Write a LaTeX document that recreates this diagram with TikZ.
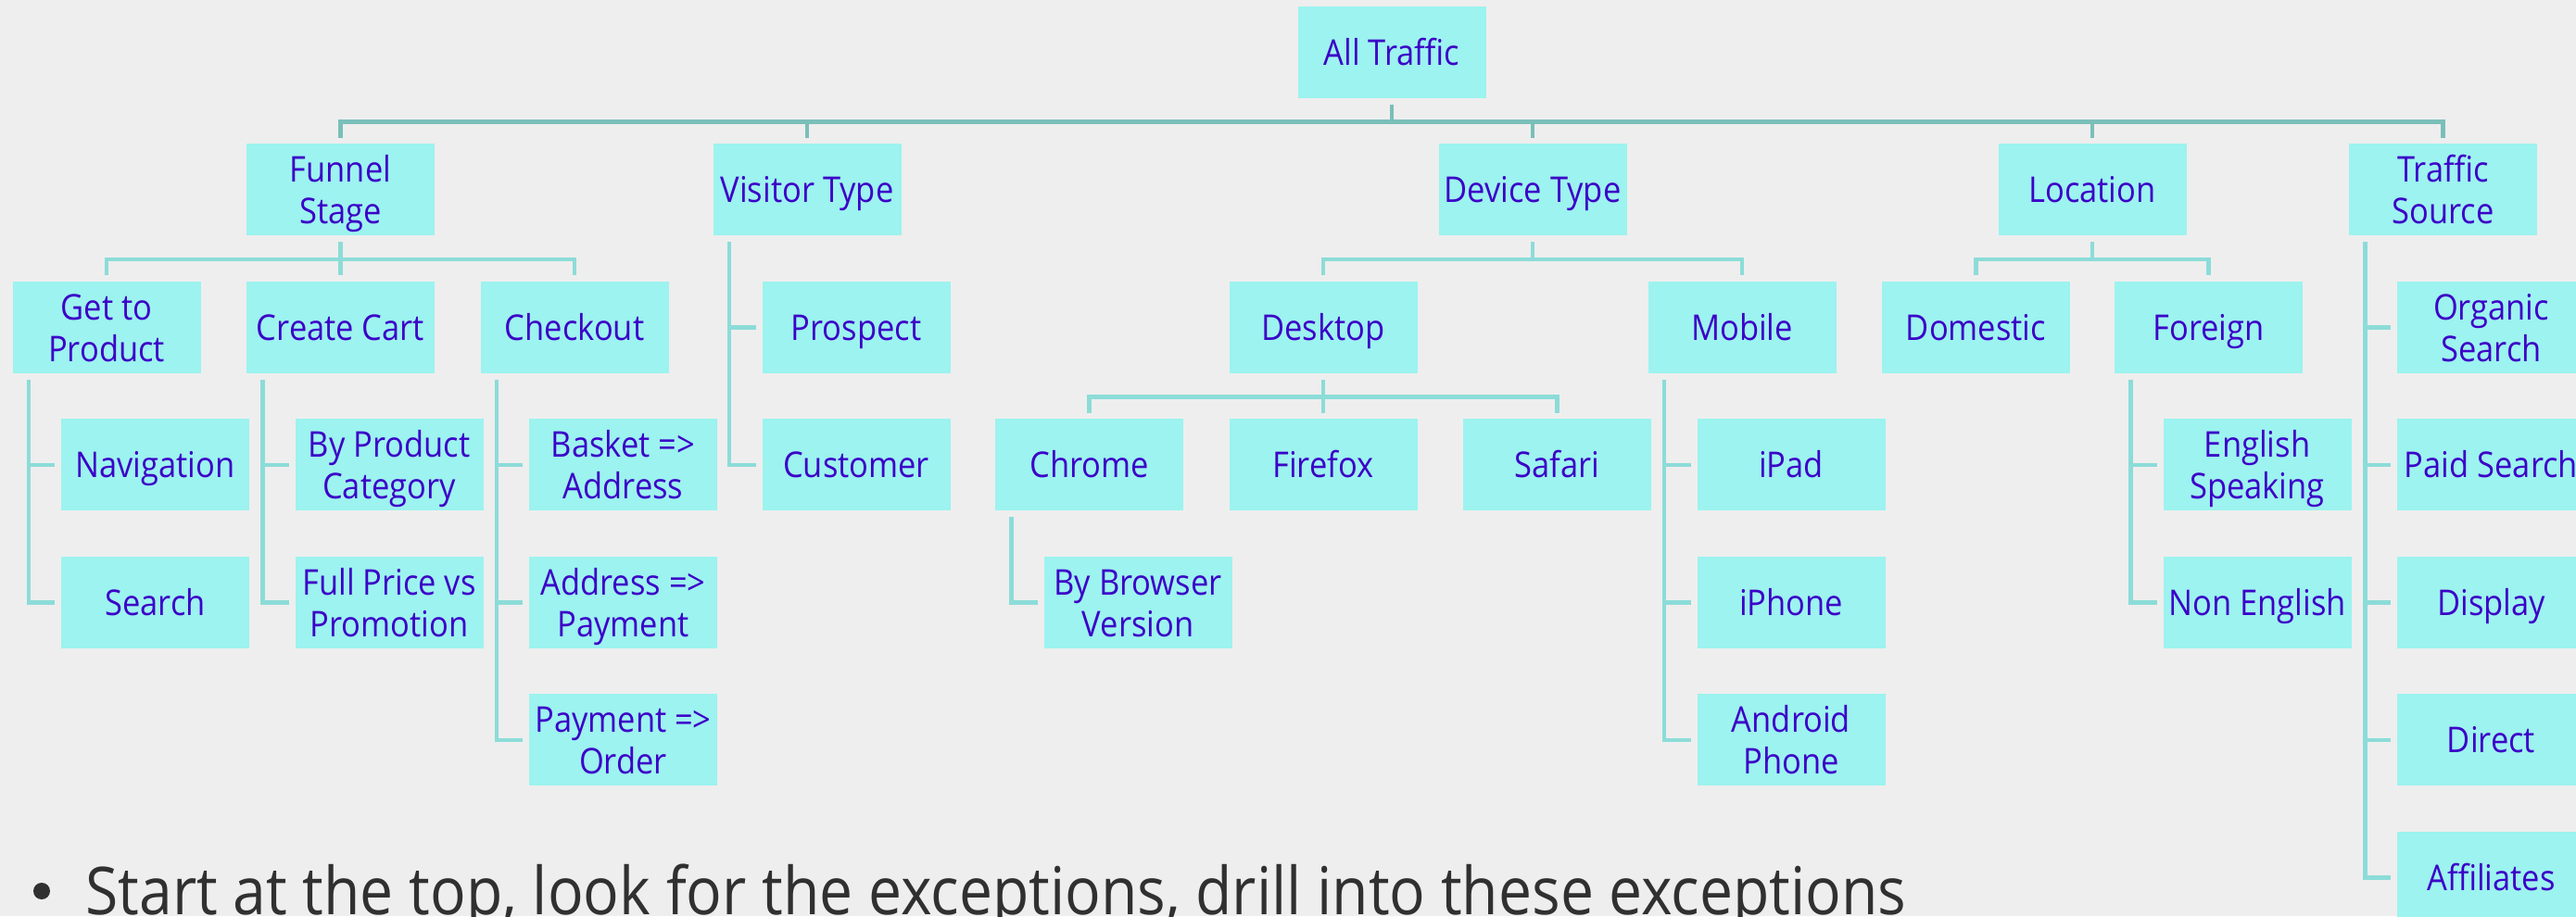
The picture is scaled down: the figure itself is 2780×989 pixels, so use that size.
\documentclass[tikz,border=0pt]{standalone}
\usepackage{fontspec}
\setmainfont{Open Sans}[FakeStretch=0.9]
\usetikzlibrary{positioning}
\definecolor{boxfill}{RGB}{156,243,239}
\definecolor{boxtext}{RGB}{60,0,200}
\definecolor{paper}{RGB}{238,238,238}
\definecolor{topline}{RGB}{122,191,185}
\definecolor{subline}{RGB}{140,220,216}
\definecolor{tiptext}{RGB}{48,48,48}

\begin{document}
\begin{tikzpicture}[x=0.1mm, y=0.1mm, node distance=14.85mm,
	main/.style = {fill=boxfill, text=boxtext, minimum width=20.3mm, minimum height=9.9mm, inner sep=0pt, align=center, font=\fontsize{10.9pt}{12.8pt}\selectfont,
		execute at begin node={\rule{0pt}{10.8pt}}, execute at end node={\rule[-3pt]{0pt}{3pt}}},
	tall/.style = {execute at begin node={\rule{0pt}{24pt}}},
	toplink/.style = {draw=topline, line width=0.45mm},
	link/.style = {draw=subline, line width=0.45mm}]
	\useasboundingbox (0,0) rectangle (2780,989);
	\fill[paper] (0,0) rectangle (2780,989);
	\clip (0,0) rectangle (2780,989);
	\node[main] (0) at (1502,932.5) {All Traffic};
	\node[main, tall] (1) [below of=0, xshift=-113.45mm] {Funnel\\Stage};
	\node[main] (2) [below of=0, xshift=-63.1mm] {Visitor Type};
	\node[main] (3) [below of=0, xshift=15.2mm] {Device Type};
	\node[main] (4) [below of=0, xshift=75.6mm] {Location};
	\node[main, tall] (5) [below of=0, xshift=113.45mm] {Traffic\\Source};
	\node[main, tall] (11) [below of=1, xshift=-25.25mm] {Get to\\Product};
	\node[main] (12) [below of=1] {Create Cart};
	\node[main] (13) [below of=1, xshift=25.25mm] {Checkout};
	\node[main] (21) [below of=2, xshift=5.3mm] {Prospect};
	\node[main] (31) [below of=3, xshift=-22.6mm] {Desktop};
	\node[main] (32) [below of=3, xshift=22.6mm] {Mobile};
	\node[main] (41) [below of=4, xshift=-12.55mm] {Domestic};
	\node[main] (42) [below of=4, xshift=12.55mm] {Foreign};
	\node[main, tall] (51) [below of=5, xshift=5.2mm] {Organic\\Search};
	\node[main] (111) [below of=11, xshift=5.25mm] {Navigation};
	\node[main, tall] (121) [below of=12, xshift=5.25mm] {By Product\\Category};
	\node[main, tall] (131) [below of=13, xshift=5.25mm] {Basket =>\\Address};
	\node[main] (22) [below of=21] {Customer};
	\node[main] (311) [below of=31, xshift=-25.25mm] {Chrome};
	\node[main] (312) [below of=31] {Firefox};
	\node[main] (313) [below of=31, xshift=25.25mm] {Safari};
	\node[main] (321) [below of=32, xshift=5.3mm] {iPad};
	\node[main, tall] (421) [below of=42, xshift=5.25mm] {English\\Speaking};
	\node[main] (52) [below of=51] {Paid Search};
	\node[main] (112) [below of=111] {Search};
	\node[main, tall] (122) [below of=121] {Full Price vs\\Promotion};
	\node[main, tall] (132) [below of=131] {Address =>\\Payment};
	\node[main, tall] (3111) [below of=311, xshift=5.25mm] {By Browser\\Version};
	\node[main] (322) [below of=321] {iPhone};
	\node[main] (422) [below of=421] {Non English};
	\node[main] (53) [below of=52] {Display};
	\node[main, tall] (133) [below of=132] {Payment =>\\Order};
	\node[main, tall] (323) [below of=322] {Android\\Phone};
	\node[main] (54) [below of=53] {Direct};
	\node[main] (55) [below of=54] {Affiliates};
	% buses
	\coordinate (b0) at ([yshift=-2.475mm]0.south);
	\coordinate (b1) at ([yshift=-2.475mm]1.south);
	\coordinate (b3) at ([yshift=-2.475mm]3.south);
	\coordinate (b31) at ([yshift=-2.475mm]31.south);
	\coordinate (b4) at ([yshift=-2.475mm]4.south);
	\draw[toplink] ([yshift=-0.6mm]0.south) -- (b0);
	\draw[toplink] ([yshift=0.6mm]1.north) |- (b0) -| ([yshift=0.6mm]5.north);
	\draw[toplink] ([yshift=0.6mm]2.north) -- (2.north |- b0);
	\draw[toplink] ([yshift=0.6mm]3.north) -- (3.north |- b0);
	\draw[toplink] ([yshift=0.6mm]4.north) -- (4.north |- b0);
	\draw[link] ([yshift=-0.6mm]1.south) -- ([yshift=0.6mm]12.north);
	\draw[link] ([yshift=0.6mm]11.north) |- (b1) -| ([yshift=0.6mm]13.north);
	\draw[link] ([yshift=-0.6mm]3.south) -- (b3);
	\draw[link] ([yshift=0.6mm]31.north) |- (b3) -| ([yshift=0.6mm]32.north);
	\draw[link] ([yshift=-0.6mm]31.south) -- ([yshift=0.6mm]312.north);
	\draw[link] ([yshift=0.6mm]311.north) |- (b31) -| ([yshift=0.6mm]313.north);
	\draw[link] ([yshift=-0.6mm]4.south) -- (b4);
	\draw[link] ([yshift=0.6mm]41.north) |- (b4) -| ([yshift=0.6mm]42.north);
	% spines
	\coordinate (s11) at ([xshift=1.8mm, yshift=-0.6mm]11.south west);
	\coordinate (s12) at ([xshift=1.8mm, yshift=-0.6mm]12.south west);
	\coordinate (s13) at ([xshift=1.8mm, yshift=-0.6mm]13.south west);
	\coordinate (s2) at ([xshift=1.8mm, yshift=-0.6mm]2.south west);
	\coordinate (s311) at ([xshift=1.8mm, yshift=-0.6mm]311.south west);
	\coordinate (s32) at ([xshift=1.8mm, yshift=-0.6mm]32.south west);
	\coordinate (s42) at ([xshift=1.8mm, yshift=-0.6mm]42.south west);
	\coordinate (s5) at ([xshift=1.8mm, yshift=-0.6mm]5.south west);
	\draw[link] (s11) |- ([xshift=-0.6mm]112.west);
	\draw[link] (s11 |- 111.west) -- ([xshift=-0.6mm]111.west);
	\draw[link] (s12) |- ([xshift=-0.6mm]122.west);
	\draw[link] (s12 |- 121.west) -- ([xshift=-0.6mm]121.west);
	\draw[link] (s13) |- ([xshift=-0.6mm]133.west);
	\draw[link] (s13 |- 131.west) -- ([xshift=-0.6mm]131.west);
	\draw[link] (s13 |- 132.west) -- ([xshift=-0.6mm]132.west);
	\draw[link] (s2) |- ([xshift=-0.6mm]22.west);
	\draw[link] (s2 |- 21.west) -- ([xshift=-0.6mm]21.west);
	\draw[link] (s311) |- ([xshift=-0.6mm]3111.west);
	\draw[link] (s32) |- ([xshift=-0.6mm]323.west);
	\draw[link] (s32 |- 321.west) -- ([xshift=-0.6mm]321.west);
	\draw[link] (s32 |- 322.west) -- ([xshift=-0.6mm]322.west);
	\draw[link] (s42) |- ([xshift=-0.6mm]422.west);
	\draw[link] (s42 |- 421.west) -- ([xshift=-0.6mm]421.west);
	\draw[link] (s5) |- ([xshift=-0.6mm]55.west);
	\draw[link] (s5 |- 51.west) -- ([xshift=-0.6mm]51.west);
	\draw[link] (s5 |- 52.west) -- ([xshift=-0.6mm]52.west);
	\draw[link] (s5 |- 53.west) -- ([xshift=-0.6mm]53.west);
	\draw[link] (s5 |- 54.west) -- ([xshift=-0.6mm]54.west);
	% bullet line
	\node[circle, fill=tiptext, minimum size=1.8mm, inner sep=0pt] (dot) at (45,27) {};
	\node[anchor=base west, inner sep=0pt, text=tiptext, font=\fontsize{20.3pt}{24pt}\selectfont] (tip) at (92,2) {Start at the top, look for the exceptions, drill into these exceptions};
\end{tikzpicture}
\end{document}
